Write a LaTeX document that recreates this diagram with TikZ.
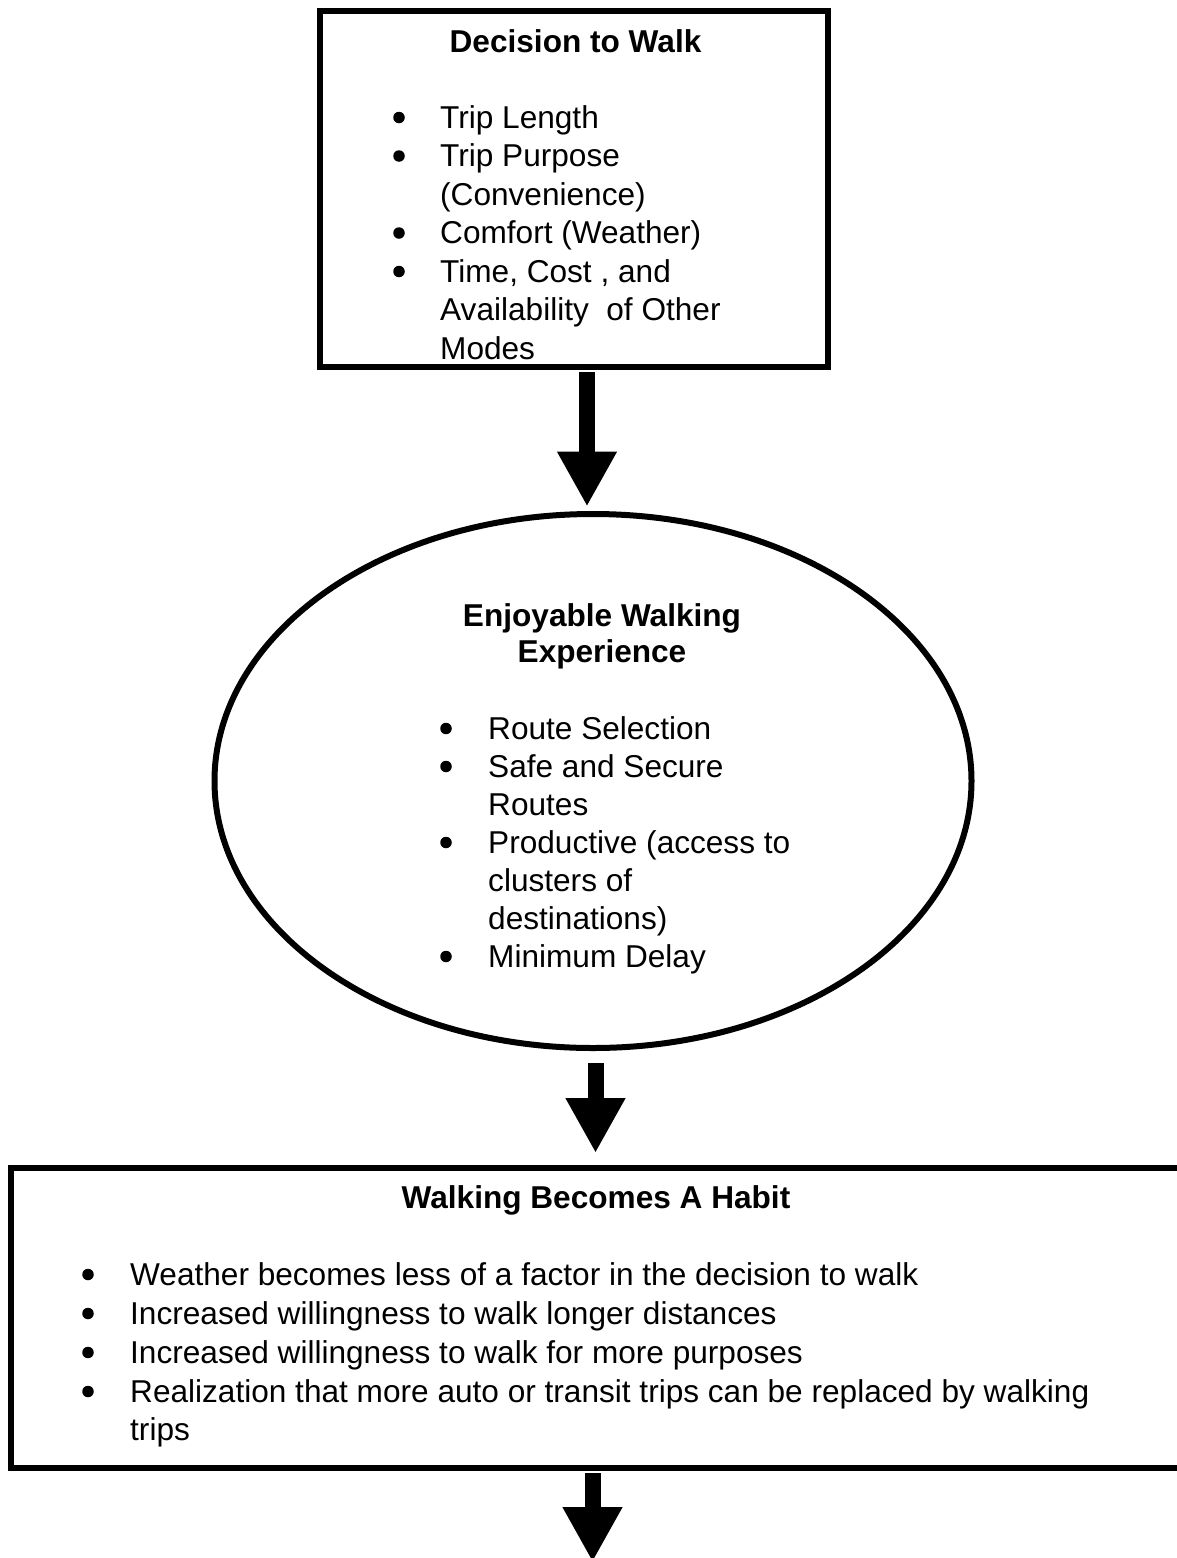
\documentclass[tikz,border=0pt]{standalone}
\usepackage{fontspec}
\setmainfont{Liberation Sans}
\usetikzlibrary{arrows.meta,shapes.geometric,calc}
\tikzset{
  frame/.style={draw=black, line width=6pt, inner sep=0pt},
  bodytext/.style={font=\fontsize{31.6}{38}\selectfont, inner sep=0pt, anchor=base west},
  titletext/.style={font=\bfseries\fontsize{31.6}{38}\selectfont, inner sep=0pt, anchor=base},
  dot/.style={circle, fill=black, inner sep=0pt, minimum size=11.5pt},
  flow/.style={line width=16pt, -{Triangle[width=56pt,length=55pt]}},
}
\begin{document}
\begin{tikzpicture}[x=1pt,y=-1pt]
\useasboundingbox (0,0) rectangle (1177,1558);

% ---------- shapes ----------
\node[frame, rectangle, minimum width=508pt, minimum height=356pt] (top) at (574,188.5) {};
\node[frame, ellipse, minimum width=757pt, minimum height=534pt] (ell) at (593,781) {};
\node[frame, rectangle, minimum width=1169pt, minimum height=300pt] (bot) at (595.5,1318) {};

% ---------- top box text ----------
\node[titletext] (t0) at (575.5,52) {Decision to Walk};
\node[bodytext] (t1) at (440,128) {Trip Length};
\node[bodytext] (t2) at (440,166.5) {Trip Purpose};
\node[bodytext] (t3) at (440,205) {(Convenience)};
\node[bodytext] (t4) at (440,243.5) {Comfort (Weather)};
\node[bodytext] (t5) at (440,282) {Time, Cost , and};
\node[bodytext] (t6) at (440,320.5) {Availability\ \ of Other};
\node[bodytext] (t7) at (440,359) {Modes};
\node[dot] (d1) at (399,117.5) {};
\node[dot] (d2) at (399,156) {};
\node[dot] (d4) at (399,233) {};
\node[dot] (d5) at (399,271.5) {};

% ---------- ellipse text ----------
\node[titletext] (e0) at (602,626) {Enjoyable Walking};
\node[titletext] (e00) at (602,662) {Experience};
\node[bodytext] (e1) at (488,739) {Route Selection};
\node[bodytext] (e2) at (488,777) {Safe and Secure};
\node[bodytext] (e3) at (488,815) {Routes};
\node[bodytext] (e4) at (488,853) {Productive (access to};
\node[bodytext] (e5) at (488,891) {clusters of};
\node[bodytext] (e6) at (488,929) {destinations)};
\node[bodytext] (e7) at (488,967) {Minimum Delay};
\node[dot] (f1) at (446,728.5) {};
\node[dot] (f2) at (446,766.5) {};
\node[dot] (f4) at (446,842.5) {};
\node[dot] (f7) at (446,956.5) {};

% ---------- bottom box text ----------
\node[titletext] (b0) at (596,1208) {Walking Becomes A Habit};
\node[bodytext] (b1) at (130,1285) {Weather becomes less of a factor in the decision to walk};
\node[bodytext] (b2) at (130,1324) {Increased willingness to walk longer distances};
\node[bodytext] (b3) at (130,1363) {Increased willingness to walk for more purposes};
\node[bodytext] (b4) at (130,1402) {Realization that more auto or transit trips can be replaced by walking};
\node[bodytext] (b5) at (130,1440) {trips};
\node[dot] (g1) at (88,1274.5) {};
\node[dot] (g2) at (88,1313.5) {};
\node[dot] (g3) at (88,1352.5) {};
\node[dot] (g4) at (88,1391.5) {};

% ---------- connectors ----------
\coordinate (a1s) at ([xshift=13pt,yshift=-2.5pt]top.south);
\draw[flow, shorten >=4.5pt] (a1s) -- (a1s |- ell.north);
\coordinate (a2s) at ([xshift=2.5pt,yshift=-12pt]ell.south);
\draw[flow, shorten >=12pt] (a2s) -- (a2s |- bot.north);
\coordinate (a3s) at ([xshift=-3pt,yshift=-2pt]bot.south);
\coordinate (a3e) at (592.5,1562);
\draw[flow] (a3s) -- (a3s |- a3e);
\end{tikzpicture}
\end{document}
